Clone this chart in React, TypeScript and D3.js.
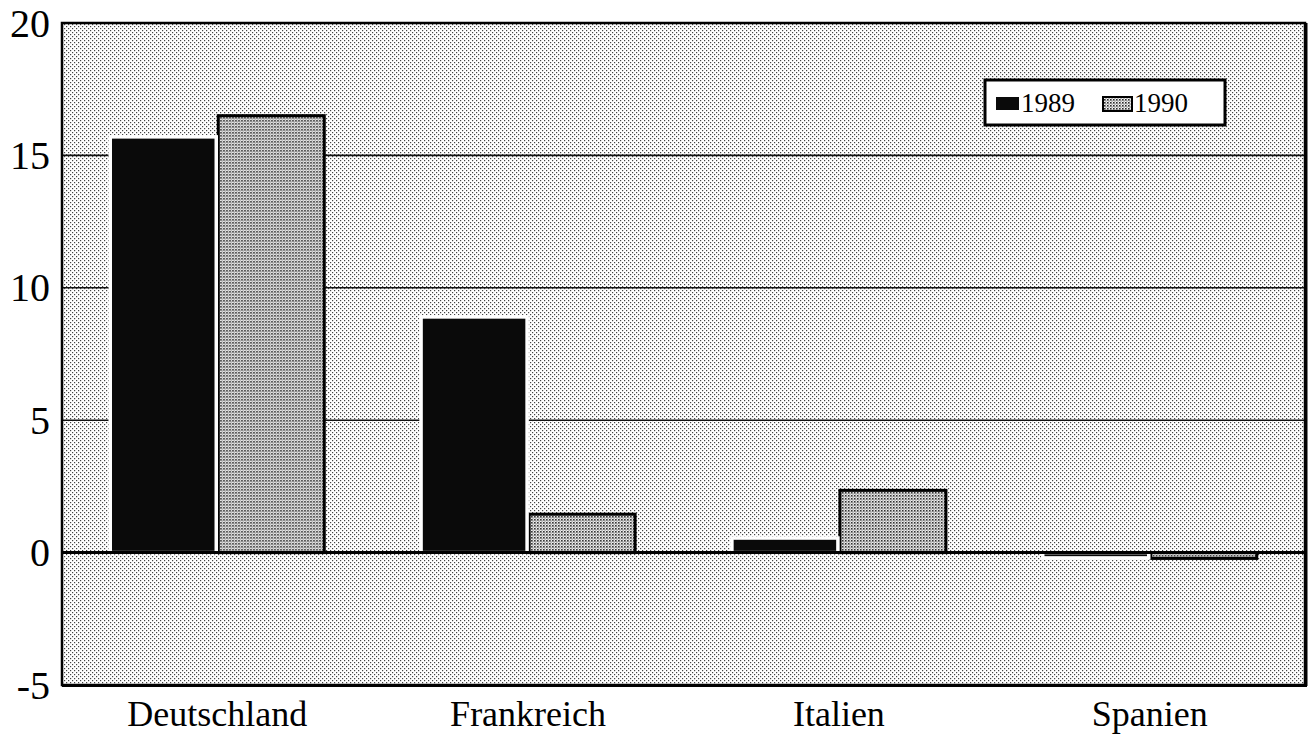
import * as d3 from "d3";
import React from "react";

const categories = ["Deutschland", "Frankreich", "Italien", "Spanien"];
const years = ["1989", "1990"];
const values1989 = [15.7, 8.9, 0.55, -0.2];
const values1990 = [16.5, 1.45, 2.35, -0.22];
const yTicks = [-5, 0, 5, 10, 15, 20];
const gridTicks = [5, 10, 15];

const W = 1311;
const H = 734;
const left = 62;
const right = 1305;
const top = 23;
const bottom = 685;
const serif = "'Liberation Serif', 'Times New Roman', serif";

const App = () => {
  const y = d3.scaleLinear().domain([-5, 20]).range([bottom, top]);
  const x = d3.scaleBand().domain(categories).range([left, right]).paddingInner(0.305).paddingOuter(0.152);
  const xs = d3.scaleBand().domain(years).range([0, x.bandwidth()]);
  const series = [values1989, values1990];

  return (
    <svg width={W} height={H} style={{position: "absolute", left: 0, top: 0, background: "#fff", fontFamily: serif}}>
      <defs>
        <pattern id="bg" width="4" height="4" patternUnits="userSpaceOnUse">
          <rect width="4" height="4" fill="#fff" />
          <rect x="0" y="0" width="1.2" height="1.2" fill="#444" />
          <rect x="2" y="2" width="1.2" height="1.2" fill="#444" />
        </pattern>
        <pattern id="p90" width="3" height="3" patternUnits="userSpaceOnUse">
          <rect width="3" height="3" fill="#f4f4f4" />
          <rect x="0" y="0" width="1.6" height="1.6" fill="#2a2a2a" />
          <rect x="1.5" y="1.5" width="1.1" height="1.1" fill="#555" />
        </pattern>
      </defs>

      {/* plot background */}
      <rect x={left} y={top} width={right - left} height={bottom - top} fill="url(#bg)" />

      {/* grid lines */}
      {gridTicks.map(t => (
        <line key={t} x1={left} x2={right} y1={y(t)} y2={y(t)} stroke="#111" strokeWidth={1.6} />
      ))}

      {/* bars */}
      {categories.map((c, i) => (
        <g key={c} transform={`translate(${x(c)},0)`}>
          {[1, 0].map(s => {
            const v = series[s][i];
            const y0 = y(Math.max(0, v));
            const h = Math.abs(y(v) - y(0));
            return s === 0 ? (
              <rect key={s} x={xs(years[s])! + 1} y={y0} width={xs.bandwidth() - 2} height={h}
                fill="#0a0a0a" stroke="#fff" strokeWidth={3.5} />
            ) : (
              <rect key={s} x={xs(years[s])! + 1} y={y0} width={xs.bandwidth() - 2} height={h}
                fill="url(#p90)" stroke="#000" strokeWidth={3} />
            );
          })}
        </g>
      ))}

      {/* zero line */}
      <line x1={left} x2={right} y1={y(0)} y2={y(0)} stroke="#000" strokeWidth={3} />

      {/* frame */}
      <rect x={left} y={top} width={right - left} height={bottom - top} fill="none" stroke="#000" strokeWidth={2.5} />
      <line x1={right + 1} x2={right + 1} y1={top} y2={bottom + 1} stroke="#000" strokeWidth={3} />
      <line x1={left} x2={right + 2} y1={bottom + 1} y2={bottom + 1} stroke="#000" strokeWidth={2} />

      {/* y tick labels */}
      {yTicks.map(t => (
        <text key={t} x={50} y={y(t)} dy="0.34em" textAnchor="end" fontSize={40} fill="#000">{t}</text>
      ))}

      {/* category labels */}
      {categories.map(c => (
        <text key={c} x={x(c)! + x.bandwidth() / 2} y={726} textAnchor="middle" fontSize={36} fill="#000">{c}</text>
      ))}

      {/* legend */}
      <g>
        <rect x={985} y={80} width={240} height={45} fill="#fff" stroke="#000" strokeWidth={3} />
        <rect x={996} y={97} width={23} height={13} fill="#0a0a0a" />
        <text x={1021} y={112} fontSize={27} fill="#000">{years[0]}</text>
        <rect x={1103} y={97} width={29} height={14} fill="url(#p90)" stroke="#000" strokeWidth={2} />
        <text x={1134} y={112} fontSize={27} fill="#000">{years[1]}</text>
      </g>
    </svg>
  );
};

export default App;
